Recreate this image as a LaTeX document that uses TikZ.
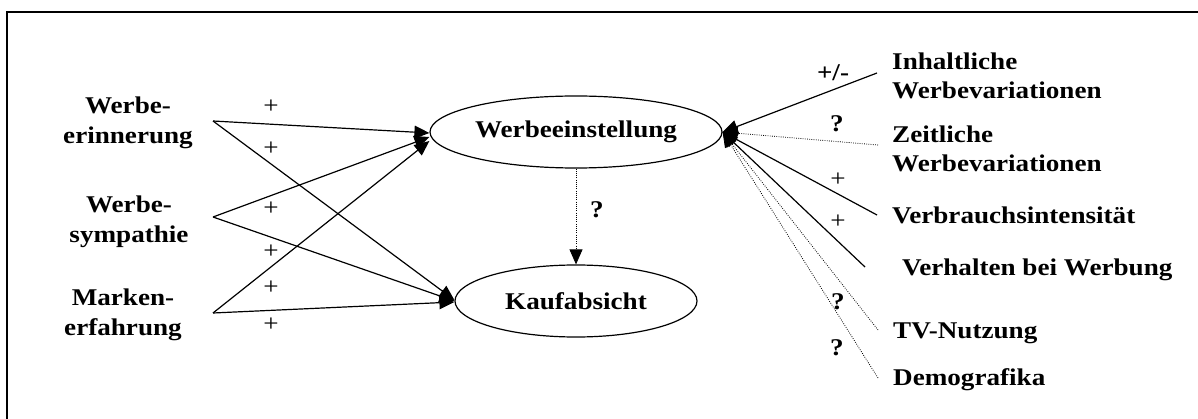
\documentclass[tikz,border=0pt]{standalone}
\usepackage{fontspec}
\setmainfont{Liberation Serif}[FakeStretch=1.13]
\usetikzlibrary{arrows.meta,shapes.geometric}
\begin{document}
\begin{tikzpicture}[x=1pt,y=-1pt,
  txt/.style={font=\fontsize{24}{29.5}\selectfont\bfseries, inner sep=0pt},
  sgn/.style={font=\fontsize{24}{29.5}\selectfont, inner sep=0pt},
  bsgn/.style={font=\fontsize{24}{29.5}\selectfont\bfseries, inner sep=0pt},
  ell/.style={draw, ellipse, line width=1.2pt, inner sep=0pt, font=\fontsize{24}{29.5}\selectfont\bfseries},
  arr/.style={line width=1.2pt, -{Triangle[length=15pt,width=13pt]}},
  darr/.style={line width=0.8pt, dash pattern=on 0.8pt off 1.4pt, -{Triangle[length=15pt,width=13pt]}}]
\useasboundingbox (0,0) rectangle (1198,419);
% frame
\draw[line width=1.6pt] (7,419) -- (7,12) -- (1198,12);

% ellipses
\node[ell, minimum width=292pt, minimum height=72pt] (W) at (576,132) {Werbeeinstellung};
\node[ell, minimum width=242pt, minimum height=72pt] (K) at (576,301) {Kaufabsicht};

% left nodes
\node[txt, align=center] (ER) at (128,123) {Werbe-\\erinnerung};
\node[txt, align=center] (SY) at (129,222) {Werbe-\\sympathie};
\node[txt, align=center] (MA) at (123,315) {Marken-\\erfahrung};
\coordinate (a1) at (213,121);
\coordinate (a2) at (213,217);
\coordinate (a3) at (213,313);

\draw[arr] (a1) -- ([yshift=-1pt]W.west);
\draw[arr] (a2) -- ([yshift=-5pt]W.west);
\draw[arr] (a3) -- ([yshift=-9pt]W.west);
\draw[arr] (a1) -- ([yshift=1pt]K.west);
\draw[arr] (a2) -- (K.west);
\draw[arr] (a3) -- ([yshift=-1pt]K.west);

\node[sgn] (p1) at (271,107) {+};
\node[sgn] (p2) at (271,149) {+};
\node[sgn] (p3) at (271,209) {+};
\node[sgn] (p4) at (271,252) {+};
\node[sgn] (p5) at (271,288) {+};
\node[sgn] (p6) at (271,325) {+};

% middle
\draw[darr] (W.south) -- (K.north);
\node[bsgn] (qm) at (597,210) {?};

% right nodes
\node[txt, align=left, anchor=west] (IW) at (892,76) {Inhaltliche\\Werbevariationen};
\node[txt, align=left, anchor=west] (ZW) at (892,149) {Zeitliche\\Werbevariationen};
\node[txt, anchor=base west] (VI) at (892,224) {Verbrauchsintensität};
\node[txt, anchor=base west] (VW) at (902,276) {Verhalten bei Werbung};
\node[txt, anchor=base west] (TV) at (893,338) {TV-Nutzung};
\node[txt, anchor=base west] (DG) at (893,385) {Demografika};

\coordinate (r1) at (877,73);
\coordinate (r2) at (878,145);
\coordinate (r3) at (877,215);
\coordinate (r4) at (865,267);
\coordinate (r5) at (878,330);
\coordinate (r6) at (878,378);

\draw[arr] (r1) -- (W.east);
\draw[darr] (r2) -- (W.east);
\draw[arr] (r3) -- (W.east);
\draw[arr] (r4) -- (W.east);
\draw[darr] (r5) -- (W.east);
\draw[darr] (r6) -- (W.east);

\node[bsgn] (s1) at (833,73) {+/-};
\node[bsgn] (s2) at (837,124) {?};
\node[sgn] (s3) at (838,180) {+};
\node[sgn] (s4) at (838,222) {+};
\node[bsgn] (s5) at (838,302) {?};
\node[bsgn] (s6) at (837,348) {?};
\end{tikzpicture}
\end{document}
